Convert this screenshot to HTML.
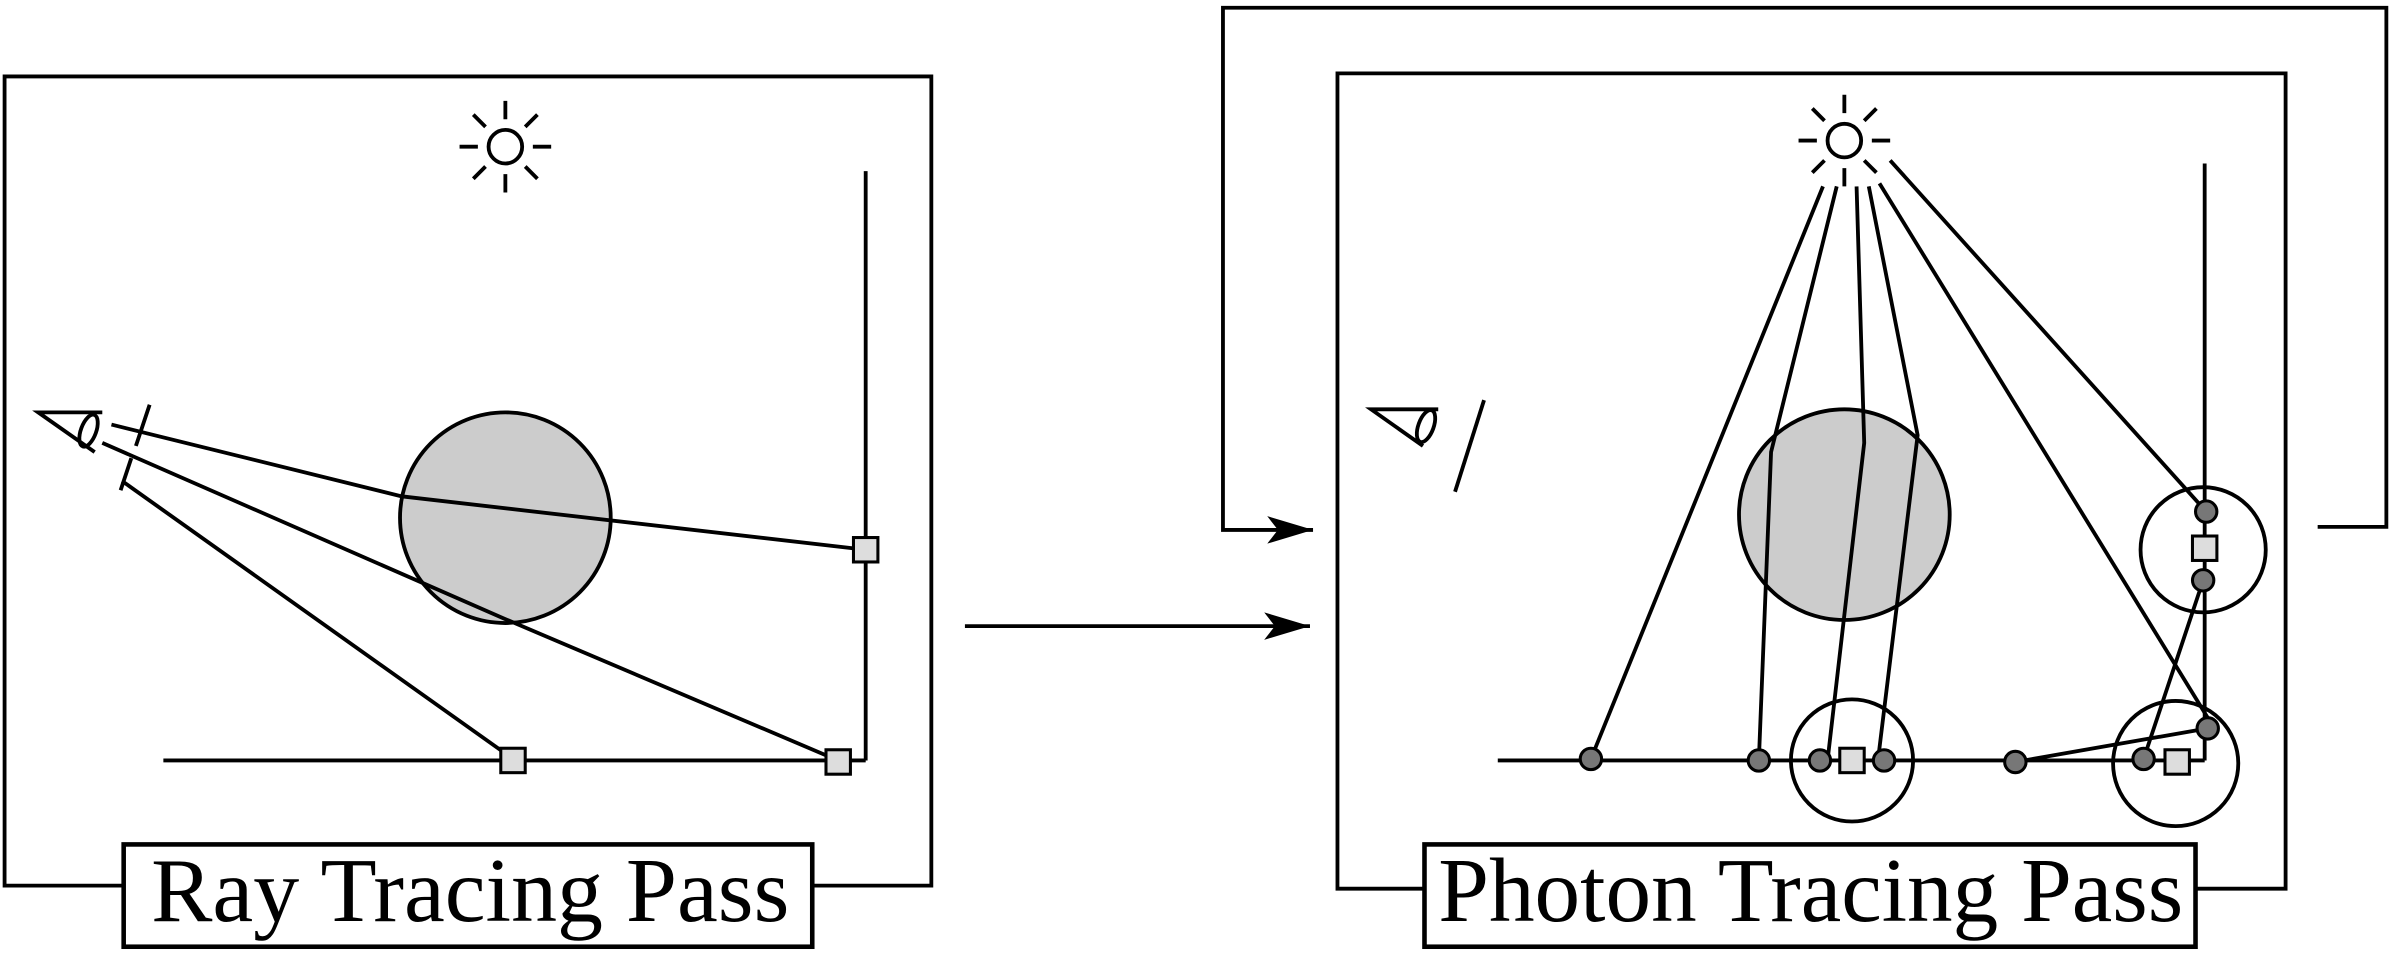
<!DOCTYPE html>
<html><head><meta charset="utf-8"><style>
html,body{margin:0;padding:0;background:#fff;}
svg{display:block;}
text{font-family:"Liberation Serif",serif;}
</style></head><body>
<svg width="2394" height="956" viewBox="0 0 1568 626" xmlns="http://www.w3.org/2000/svg">
<defs><marker id="ah" markerWidth="32" markerHeight="18" refX="30" refY="9" orient="auto" markerUnits="userSpaceOnUse"><path d="M0,0 L30,9 L0,18 L7,9 Z" fill="#000"/></marker></defs>
<g stroke="#000" stroke-width="2.5" fill="none">
<g>
<path d="M81,580 H3 V50 H610 V580 H532"/>
<g><circle cx="331" cy="96" r="11"/>
<path d="M331,66 V78 M331,114 V126 M301,96 H313 M349,96 H361 M310,75 L318,83 M344,109 L352,117 M352,75 L344,83 M318,109 L310,117"/></g>
<line x1="567" y1="112" x2="567" y2="498"/>
<line x1="107" y1="498" x2="567" y2="498"/>
<circle cx="331" cy="339" r="69" fill="#ccc"/>
<g><path d="M67,270 H25 L62,296"/><ellipse cx="58" cy="282" rx="5" ry="11" transform="rotate(20 58 282)"/></g>
<path d="M98,265 L89,292 M86,300 L79,321"/>
<polyline points="73,278 263,325 567,360"/>
<polyline points="67,290 330,405 549,498"/>
<line x1="80" y1="315" x2="336" y2="497"/>
<g fill="#ddd" stroke-width="2"><rect x="559" y="352" width="16" height="16"/><rect x="328" y="490" width="16" height="16"/><rect x="541" y="491" width="16" height="16"/></g>
</g>
<rect x="81" y="553" width="451" height="67" stroke-width="3"/>
<line x1="632" y1="410" x2="858" y2="410" marker-end="url(#ah)"/>
<g>
<path d="M933,582 H876 V48 H1497 V582 H1438"/>
<path d="M1518,345 H1563 V5 H801 V347 H860" marker-end="url(#ah)"/>
<g><circle cx="1208" cy="92" r="11"/>
<path d="M1208,62 V74 M1208,110 V122 M1178,92 H1190 M1226,92 H1238 M1187,71 L1195,79 M1221,105 L1229,113 M1229,71 L1221,79 M1195,105 L1187,113"/></g>
<line x1="1444" y1="107" x2="1444" y2="498"/>
<line x1="981" y1="498" x2="1444" y2="498"/>
<circle cx="1208" cy="337" r="69" fill="#ccc"/>
<g><path d="M942,268 H898 L932,292"/><ellipse cx="934" cy="279" rx="5" ry="11" transform="rotate(20 934 279)"/></g>
<line x1="972" y1="262" x2="953" y2="322"/>
<circle cx="1213" cy="498" r="40"/><circle cx="1443" cy="360" r="41"/><circle cx="1425" cy="500" r="41"/>
<polyline points="1194,122 1042,497"/>
<polyline points="1203,122 1160,296 1152,498"/>
<polyline points="1216,122 1221,290 1197,498"/>
<polyline points="1224,122 1256,285 1230,498"/>
<polyline points="1231,120 1446,470"/>
<polyline points="1238,105 1445,335"/>
<polyline points="1320,499 1446,477"/>
<polyline points="1443,380 1404,497"/>
<g fill="#777" stroke-width="2"><circle cx="1042" cy="497" r="7"/><circle cx="1152" cy="498" r="7"/><circle cx="1192" cy="498" r="7"/><circle cx="1234" cy="498" r="7"/><circle cx="1320" cy="499" r="7"/><circle cx="1404" cy="497" r="7"/><circle cx="1446" cy="477" r="7"/><circle cx="1445" cy="335" r="7"/><circle cx="1443" cy="380" r="7"/></g>
<g fill="#ddd" stroke-width="2"><rect x="1205" y="490" width="16" height="16"/><rect x="1418" y="491" width="16" height="16"/><rect x="1436" y="351" width="16" height="16"/></g>
</g>
<rect x="933" y="553" width="505" height="67" stroke-width="3"/>
</g>
<text x="308" y="603" font-size="60" text-anchor="middle" textLength="418" lengthAdjust="spacingAndGlyphs">Ray Tracing Pass</text>
<text x="1186" y="603" font-size="60" text-anchor="middle" textLength="488" lengthAdjust="spacingAndGlyphs">Photon Tracing Pass</text>
</svg>
</body></html>
